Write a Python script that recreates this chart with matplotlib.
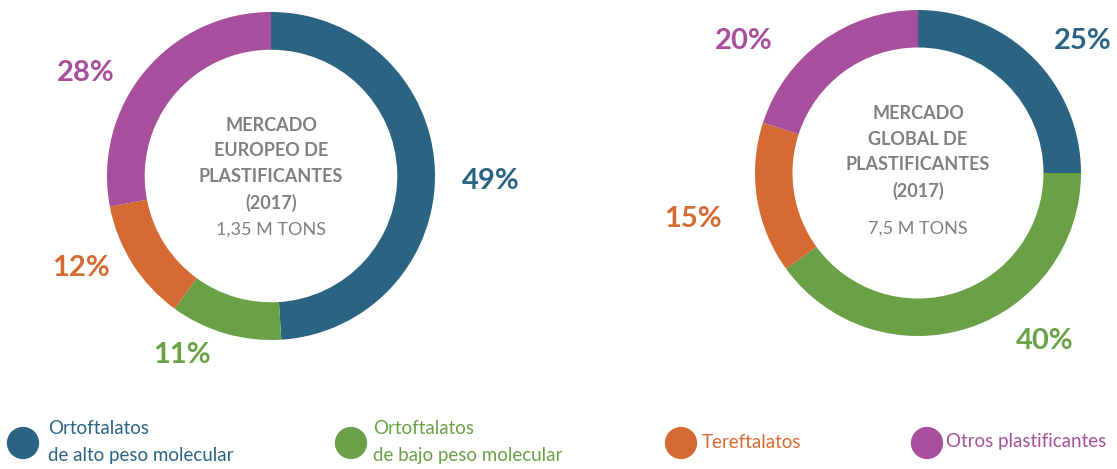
import matplotlib.pyplot as plt

plt.rcParams['font.family'] = ['Lato', 'DejaVu Sans']

# data
categories = ['Ortoftalatos\nde alto peso molecular', 'Ortoftalatos\nde bajo peso molecular',
              'Tereftalatos', 'Otros plastificantes']
colors = ['#2a6482', '#6aa147', '#d66a33', '#a74f9d']
europe_share = [49, 11, 12, 28]
global_share = [25, 40, 15, 20]
europe_title = 'MERCADO\nEUROPEO DE\nPLASTIFICANTES\n(2017)'
europe_total = '1,35 M TONS'
global_title = 'MERCADO\nGLOBAL DE\nPLASTIFICANTES\n(2017)'
global_total = '7,5 M TONS'

W, H = 1117, 469
fig = plt.figure(figsize=(W / 100, H / 100), dpi=100)


def donut(cx, cy, r, values, label_pos, title, total, title_y, total_y):
    ax = fig.add_axes([(cx - r) / W, (H - cy - r) / H, 2 * r / W, 2 * r / H])
    ax.pie(values, colors=colors, startangle=90, counterclock=False,
           wedgeprops=dict(width=0.23, edgecolor='none'), radius=1)
    ax.set_xlim(-1, 1)
    ax.set_ylim(-1, 1)
    ax.set_aspect('equal')
    ax.axis('off')
    for v, c, (x, y) in zip(values, colors, label_pos):
        ax.text(x, y, f'{v}%', color=c, fontsize=21, fontweight='bold',
                ha='center', va='center', clip_on=False)
    ax.text(0, title_y, title, color='#7f7f7f', fontsize=13, fontweight='bold',
            ha='center', va='center', linespacing=1.6)
    ax.text(0, total_y, total, color='#7f7f7f', fontsize=13,
            ha='center', va='center')


donut(271, 176, 164, europe_share,
      [(1.34, -0.03), (-0.54, -1.09), (-1.16, -0.56), (-1.13, 0.63)],
      europe_title, europe_total, 0.07, -0.33)
donut(918, 173, 163, global_share,
      [(1.01, 0.81), (0.78, -1.03), (-1.38, -0.28), (-1.07, 0.81)],
      global_title, global_total, 0.125, -0.34)

# legend
lg = fig.add_axes([0, 0, 1, 1])
lg.set_xlim(0, W)
lg.set_ylim(H, 0)
lg.axis('off')
marker_x = [23, 351, 681, 927]
text_x = [48, 373, 702, 946]
for i, (name, c) in enumerate(zip(categories, colors)):
    lg.scatter(marker_x[i], 443, s=540, color=c, edgecolors='none')
    lg.text(text_x[i], 442, name, color=c, fontsize=13.5, ha='left',
            va='center', linespacing=1.75)

fig.savefig('out.png', dpi=100)
